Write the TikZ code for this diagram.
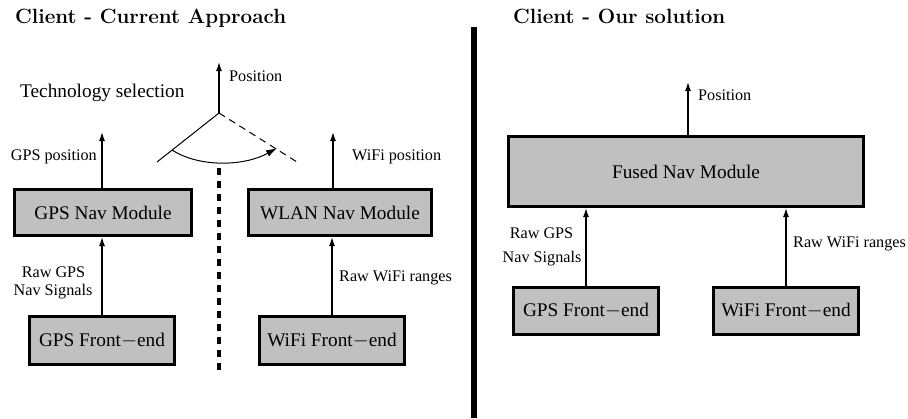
\documentclass[tikz,border=0pt]{standalone}
\usepackage{fontspec}
\newfontfamily\tms{Liberation Serif}
\usetikzlibrary{arrows.meta}
\definecolor{boxgray}{RGB}{192,192,192}
\tikzset{
  modbox/.style={draw, line width=3bp, fill=boxgray, inner sep=0pt, font=\tms\fontsize{19.3bp}{22bp}\selectfont},
  lbl/.style={inner sep=0pt, font=\tms\fontsize{16.2bp}{18bp}\selectfont},
  ttl/.style={inner sep=0pt, font=\fontsize{20.6bp}{24bp}\selectfont\bfseries},
  conn/.style={line width=1.3bp, -{Latex[length=9bp,width=6bp]}},
  thin/.style={line width=1bp}
}
\begin{document}
\begin{tikzpicture}[x=1bp,y=-1bp]
\useasboundingbox (0,0) rectangle (908,418);
% titles
\node[ttl, anchor=base west] (t1) at (15,23) {Client - Current Approach};
\node[ttl, anchor=base west] (t2) at (513,23) {Client - Our solution};
% separators
\draw[line width=6bp] (474,27) -- (474,418);
\draw[line width=4bp, dash pattern=on 7bp off 6bp] (219,168) -- (219,372);
% left side boxes
\node[modbox, minimum width=177bp, minimum height=46bp] (gpsnav) at (103,212.5) {GPS Nav Module};
\node[modbox, minimum width=183bp, minimum height=46bp] (wlannav) at (340,212.5) {WLAN Nav Module};
\node[modbox, minimum width=145bp, minimum height=48bp] (gpsfe) at (102,340.5) {GPS Front{$-$}end};
\node[modbox, minimum width=145bp, minimum height=48bp] (wifife) at (332,340.5) {WiFi Front{$-$}end};
% left arrows
\coordinate (gpsout) at (102,132);
\coordinate (wifiout) at (333,132);
\draw[conn] (gpsfe.north) -- (gpsfe.north |- gpsnav.south);
\draw[conn] (wifife.north) -- (wifife.north |- wlannav.south);
\draw[conn] (gpsout |- gpsnav.north) -- (gpsout);
\draw[conn] (wifiout |- wlannav.north) -- (wifiout);
\node[lbl, anchor=base east] (l1) at (97,160) {GPS position};
\node[lbl, anchor=base west] (l2) at (352,160) {WiFi position};
\node[lbl, anchor=base] (l3) at (53.5,277) {Raw GPS};
\node[lbl, anchor=base] (l4) at (53,295) {Nav Signals};
\node[lbl, anchor=base west] (l5) at (339,281) {Raw WiFi ranges};
% technology selection
\node[inner sep=0pt, anchor=base west, font=\tms\fontsize{19.3bp}{22bp}\selectfont] (tech) at (20,97) {Technology selection};
\coordinate (v) at (219,113);
\coordinate (vtop) at (219,62);
\coordinate (sl) at (157,162);
\coordinate (sr) at (297,162);
\coordinate (a1) at (172,150);
\coordinate (a2) at (277,148);
\draw[conn] (v) -- (vtop);
\node[lbl, anchor=base west] (p1) at (229,81) {Position};
\draw[thin] (v) -- (sl);
\draw[thin, dash pattern=on 7bp off 5bp] (v) -- (sr);
\draw[thin, -{Latex[length=11bp,width=7bp]}] (a1) .. controls (200,168) and (245,166) .. (a2);
% right side
\node[modbox, minimum width=355bp, minimum height=70bp] (fused) at (686,171.5) {Fused Nav Module};
\node[modbox, minimum width=145bp, minimum height=47bp] (gpsfe2) at (586,311) {GPS Front{$-$}end};
\node[modbox, minimum width=145bp, minimum height=47bp] (wifife2) at (786,311) {WiFi Front{$-$}end};
\coordinate (posout) at (688,82);
\draw[conn] (posout |- fused.north) -- (posout);
\node[lbl, anchor=base west] (p2) at (698,100) {Position};
\draw[conn] (gpsfe2.north) -- (gpsfe2.north |- fused.south);
\draw[conn] (wifife2.north) -- (wifife2.north |- fused.south);
\node[lbl, anchor=base] (r1) at (541.5,238) {Raw GPS};
\node[lbl, anchor=base] (r2) at (542,262) {Nav Signals};
\node[lbl, anchor=base west] (r3) at (793,247) {Raw WiFi ranges};
\end{tikzpicture}
\end{document}
